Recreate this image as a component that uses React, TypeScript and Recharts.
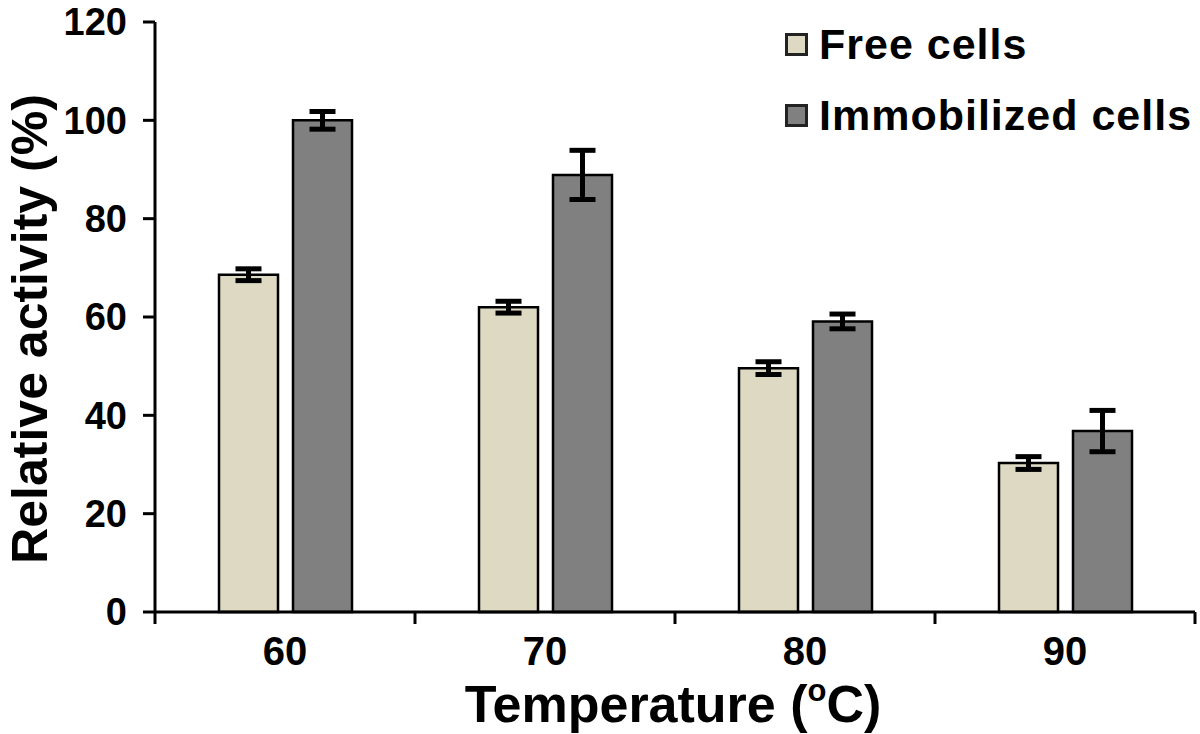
import React from 'react';
import { BarChart, Bar, XAxis, YAxis, ErrorBar, Legend, Label } from 'recharts';

const categories = ['60', '70', '80', '90'];
const freeCells = [68.6, 62.0, 49.6, 30.3];
const freeCellsErr = [1.2, 1.2, 1.3, 1.3];
const immobilizedCells = [100.0, 88.9, 59.1, 36.8];
const immobilizedCellsErr = [1.8, 5.0, 1.5, 4.2];
const yTicks = [0, 20, 40, 60, 80, 100, 120];

const seriesNames = ['Free cells', 'Immobilized cells'];
const seriesColors = ['#DDD9C3', '#808080'];

const data = categories.map((c, i) => ({
  temp: c,
  free: freeCells[i],
  freeErr: freeCellsErr[i],
  immo: immobilizedCells[i],
  immoErr: immobilizedCellsErr[i],
}));

const FONT = '"Liberation Sans", Arial, sans-serif';
const X_TICK_MARGIN = 25;
const X_TICK_LEN = 12;

const XTick = (props: any) => {
  const { x, y, payload, index } = props;
  const half = payload.offset || 0;
  const axisY = y - X_TICK_MARGIN;
  return (
    <g>
      <line x1={x - half} x2={x - half} y1={axisY} y2={axisY + X_TICK_LEN} stroke="#000" strokeWidth={3} />
      {index === categories.length - 1 && (
        <line x1={x + half} x2={x + half} y1={axisY} y2={axisY + X_TICK_LEN} stroke="#000" strokeWidth={3} />
      )}
      <text x={x} y={y} dy="0.71em" textAnchor="middle" fontSize={40} fontWeight="bold" fontFamily={FONT} fill="#000">
        {payload.value}
      </text>
    </g>
  );
};

const LegendBox = () => (
  <div style={{ fontFamily: FONT, fontWeight: 'bold', fontSize: 43, color: '#000' }}>
    {seriesNames.map((name, i) => (
      <div key={name} style={{ display: 'flex', alignItems: 'center', height: 71 }}>
        <div
          style={{
            width: 17,
            height: 17,
            background: seriesColors[i],
            border: '3px solid #222',
            marginRight: 11,
          }}
        />
        <span style={{ letterSpacing: 1 }}>{name}</span>
      </div>
    ))}
  </div>
);

export default function App() {
  return (
    <div style={{ width: 1200, height: 734, background: '#fff' }}>
      <style>{`body{margin:0}`}</style>
      <BarChart
        width={1200}
        height={734}
        data={data}
        margin={{ top: 22, right: 5, left: 0, bottom: 0 }}
        barSize={59}
        barGap={15}
      >
        <XAxis
          dataKey="temp"
          height={122}
          axisLine={{ stroke: '#000', strokeWidth: 3 }}
          tickLine={false}
          tickSize={0}
          tickMargin={X_TICK_MARGIN}
          tick={<XTick />}
          interval={0}
        >
          <Label
            content={(p: any) => {
              const vb = p.viewBox;
              return (
                <text
                  x={vb.x + vb.width / 2 - 2}
                  y={722}
                  textAnchor="middle"
                  fontSize={52}
                  fontWeight="bold"
                  fontFamily={FONT}
                  fill="#000"
                >
                  Temperature (<tspan fontSize={31} dy={-21}>o</tspan>
                  <tspan dy={21}>C)</tspan>
                </text>
              );
            }}
          />
        </XAxis>
        <YAxis
          width={155}
          domain={[0, 120]}
          ticks={yTicks}
          interval={0}
          axisLine={{ stroke: '#000', strokeWidth: 3 }}
          tickLine={{ stroke: '#000', strokeWidth: 3 }}
          tickSize={12}
          tickMargin={16}
          tick={{ fontSize: 38, fontWeight: 'bold', fontFamily: FONT, fill: '#000' }}
        >
          <Label
            content={(p: any) => {
              const vb = p.viewBox;
              const cy = vb.y + vb.height / 2 + 12;
              return (
                <text
                  transform={`translate(47, ${cy}) rotate(-90)`}
                  textAnchor="middle"
                  fontSize={50}
                  fontWeight="bold"
                  fontFamily={FONT}
                  fill="#000"
                >
                  Relative activity (%)
                </text>
              );
            }}
          />
        </YAxis>
        <Legend
          layout="horizontal"
          verticalAlign="middle"
          align="center"
          content={<LegendBox />}
          wrapperStyle={{ top: 9, left: 785, width: 415 }}
        />
        <Bar dataKey="free" name={seriesNames[0]} fill={seriesColors[0]} stroke="#000" strokeWidth={2.5} isAnimationActive={false}>
          <ErrorBar dataKey="freeErr" width={13} stroke="#000" strokeWidth={5} isAnimationActive={false} />
        </Bar>
        <Bar dataKey="immo" name={seriesNames[1]} fill={seriesColors[1]} stroke="#000" strokeWidth={2.5} isAnimationActive={false}>
          <ErrorBar dataKey="immoErr" width={13} stroke="#000" strokeWidth={5} isAnimationActive={false} />
        </Bar>
      </BarChart>
    </div>
  );
}
